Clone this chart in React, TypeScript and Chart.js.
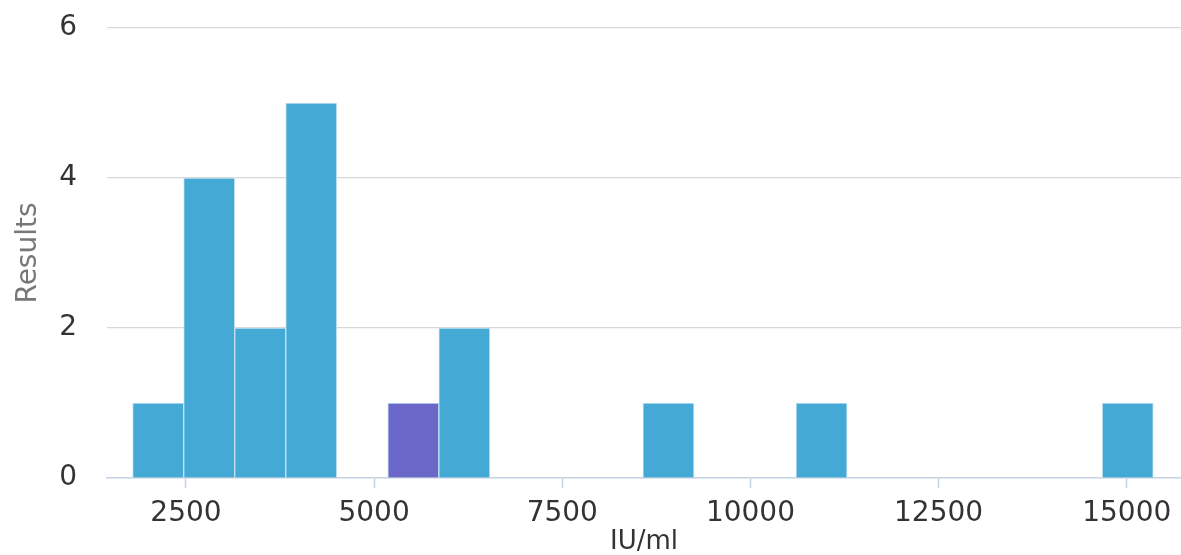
import React, { useEffect, useRef } from "react";
import { Chart, registerables } from "chart.js";

Chart.register(...registerables);

// Histogram bins (lower edges, IU/ml), bin width and counts
const binLowerEdges = [1792, 2470, 3148, 3826, 5182, 5860, 8572, 10606, 14674];
const binWidth = 678;
const binCounts = [1, 4, 2, 5, 1, 2, 1, 1, 1];
const highlightedBin = 4; // purple bar
const xTickValues = [2500, 5000, 7500, 10000, 12500, 15000];
const yTickValues = [0, 2, 4, 6];
const X_MIN = 1451;
const X_MAX = 15721;

const BLUE = "#45a9d6";
const PURPLE = "#6a67c9";
const FONT = "DejaVu Sans";

export default function App() {
  const ref = useRef<HTMLCanvasElement | null>(null);

  useEffect(() => {
    document.body.style.margin = "0";
    const canvas = ref.current;
    if (!canvas) return;
    const data = binLowerEdges.map((lo, i) => ({ x: lo + binWidth / 2, y: binCounts[i] }));
    const colors = binLowerEdges.map((_, i) => (i === highlightedBin ? PURPLE : BLUE));
    const chart = new Chart(canvas, {
      type: "bar",
      data: {
        datasets: [
          {
            data: data as any,
            backgroundColor: colors,
            borderColor: "#c4e3f3",
            borderWidth: 1,
            barPercentage: 1,
            categoryPercentage: 1,
          },
        ],
      },
      options: {
        animation: false,
        responsive: false,
        maintainAspectRatio: false,
        layout: { padding: { top: 28, right: 0, left: 0, bottom: 0 } },
        plugins: { legend: { display: false }, tooltip: { enabled: false } },
        scales: {
          x: {
            type: "linear",
            min: X_MIN,
            max: X_MAX,
            offset: false,
            afterBuildTicks: (s: any) => {
              s.ticks = xTickValues.map((v) => ({ value: v }));
            },
            afterFit: (s: any) => {
              s.height = 77;
              s.paddingLeft = 0;
              s.paddingRight = 0;
            },
            grid: {
              display: true,
              offset: false,
              drawOnChartArea: false,
              drawTicks: true,
              tickLength: 10,
              tickColor: "#c5d5e6",
              tickWidth: 1.5,
            },
            border: { display: true, color: "#c5d5e6", width: 1.5 },
            ticks: {
              autoSkip: false,
              maxRotation: 0,
              padding: 9,
              color: "#333333",
              font: { family: FONT, size: 28 },
              callback: (v: any) => String(v),
            },
            title: {
              display: true,
              text: "IU/ml",
              color: "#333333",
              font: { family: FONT, size: 26, lineHeight: 1 },
              padding: { top: 0, bottom: 0 },
            },
          },
          y: {
            min: 0,
            max: 6,
            afterBuildTicks: (s: any) => {
              s.ticks = yTickValues.map((v) => ({ value: v }));
            },
            afterFit: (s: any) => {
              s.width = 107;
              s.paddingTop = 0;
              s.paddingBottom = 0;
            },
            grid: { color: "#d8d8d8", lineWidth: 1.2, drawTicks: false },
            border: { display: false },
            ticks: {
              padding: 30,
              color: "#333333",
              font: { family: FONT, size: 28 },
            },
            title: {
              display: true,
              text: "Results",
              color: "#777777",
              font: { family: FONT, size: 28, lineHeight: 1.2 },
              padding: { top: 12, bottom: 0 },
            },
          },
        },
      },
    });
    return () => chart.destroy();
  }, []);

  return (
    <div style={{ position: "absolute", left: 0, top: 0, width: 1181, height: 555 }}>
      <canvas ref={ref} width={1181} height={555} />
    </div>
  );
}
